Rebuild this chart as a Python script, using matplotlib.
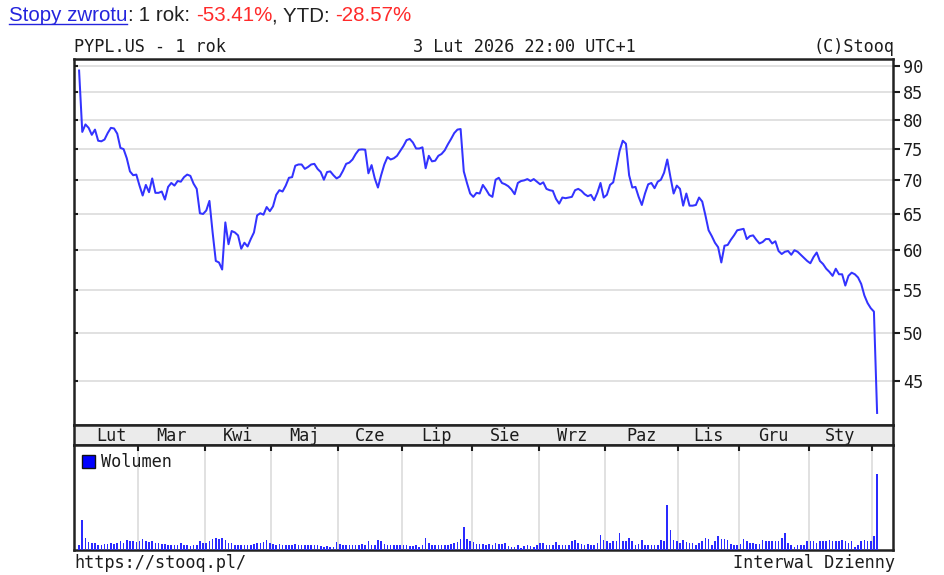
import numpy as np
import matplotlib
matplotlib.use("Agg")
import matplotlib.pyplot as plt
from matplotlib.patches import Patch
from matplotlib.lines import Line2D
from matplotlib.ticker import FixedLocator, NullLocator, FixedFormatter

# PYPL.US daily closes, 3 Feb 2025 .. 3 Feb 2026 (one value per trading day)
price_feb25 = [89.2, 77.9, 79.2, 78.6, 77.4, 78.3, 76.4, 76.3, 76.6, 77.7, 78.6, 78.5, 77.6, 75.2, 75.0, 73.5, 71.4, 70.8, 70.9]
price_mar = [69.2, 67.7, 69.3, 68.2, 70.3, 68.1, 68.1, 68.3, 67.1, 69.0, 69.6, 69.2, 69.9, 69.8, 70.5, 70.9, 70.7, 69.5, 68.7, 65.1, 65.0]
price_apr = [65.5, 66.9, 62.4, 58.6, 58.4, 57.5, 63.8, 60.8, 62.6, 62.4, 62.0, 60.2, 61.0, 60.5, 61.5, 62.4, 64.8, 65.1, 64.9, 66.0, 65.4]
price_may = [66.1, 67.8, 68.5, 68.3, 69.2, 70.4, 70.5, 72.3, 72.5, 72.5, 71.8, 72.1, 72.5, 72.6, 71.8, 71.3, 70.1, 71.3, 71.4, 70.8, 70.3]
price_jun = [70.6, 71.5, 72.6, 72.8, 73.3, 74.2, 74.9, 74.95, 74.9, 71.1, 72.4, 70.3, 68.9, 70.8, 72.5, 73.7, 73.3, 73.5, 73.9, 74.7]
price_jul = [75.5, 76.5, 76.7, 76.1, 75.1, 75.1, 75.3, 71.9, 73.9, 73.0, 73.1, 73.9, 74.2, 74.8, 75.8, 76.7, 77.7, 78.3, 78.4, 71.4, 69.6, 68.0]
price_aug = [67.5, 68.1, 68.0, 69.3, 68.6, 67.8, 67.5, 70.1, 70.4, 69.6, 69.4, 69.1, 68.6, 67.9, 69.6, 69.9, 70.0, 70.2, 69.9, 70.2, 69.8]
price_sep = [69.4, 69.7, 68.7, 68.5, 68.4, 67.2, 66.5, 67.4, 67.3, 67.4, 67.5, 68.5, 68.7, 68.4, 67.9, 67.6, 67.8, 67.0, 68.1, 69.6, 67.4]
price_oct = [67.8, 69.3, 69.7, 72.1, 74.7, 76.4, 75.9, 70.8, 68.9, 69.0, 67.5, 66.3, 68.0, 69.4, 69.6, 68.8, 69.8, 70.1, 71.2, 73.3, 70.5, 68.0, 69.2]
price_nov = [68.7, 66.2, 68.0, 66.2, 66.2, 66.3, 67.4, 66.8, 64.8, 62.7, 61.9, 61.0, 60.4, 58.4, 60.6, 60.7, 61.4, 62.0, 62.7]
price_dec = [62.8, 62.9, 61.5, 61.9, 62.0, 61.4, 60.9, 61.1, 61.5, 61.5, 60.9, 61.2, 59.9, 59.5, 59.8, 59.9, 59.4, 60.0, 59.8, 59.4, 59.0, 58.6]
price_jan = [58.3, 59.1, 59.7, 58.6, 58.2, 57.6, 57.2, 56.7, 57.6, 56.9, 56.9, 55.5, 56.7, 57.1, 56.9, 56.5, 55.7, 54.3, 53.4, 52.8]
price_feb26 = [52.4, 41.9]

# daily volume (relative units)
vol_feb25 = [5, 30, 12, 8, 7, 7, 5, 5, 6, 6, 7, 6, 7, 9, 7, 10, 9, 9, 8]
vol_mar = [9, 11, 9, 8, 9, 7, 7, 6, 6, 5, 5, 5, 5, 7, 5, 5, 4, 5, 5, 9, 7]
vol_apr = [7, 9, 11, 12, 11, 12, 10, 7, 7, 5, 5, 5, 5, 5, 5, 6, 7, 7, 8, 10, 7]
vol_may = [6, 5, 6, 5, 5, 5, 5, 6, 5, 5, 5, 5, 5, 5, 5, 4, 3, 4, 3, 3, 8]
vol_jun = [6, 5, 5, 5, 5, 5, 5, 6, 5, 9, 5, 5, 10, 9, 6, 5, 5, 5, 5, 5]
vol_jul = [5, 5, 4, 4, 5, 3, 5, 12, 7, 5, 5, 5, 5, 5, 5, 6, 7, 8, 11, 23, 11, 9]
vol_aug = [8, 6, 6, 6, 5, 6, 5, 7, 6, 6, 7, 4, 3, 3, 5, 2, 4, 5, 4, 3, 5]
vol_sep = [7, 7, 5, 5, 5, 8, 5, 5, 5, 5, 9, 10, 7, 6, 5, 6, 5, 5, 7, 15, 10]
vol_oct = [9, 7, 9, 9, 17, 9, 9, 12, 9, 5, 6, 10, 5, 5, 5, 5, 5, 10, 9, 44, 20, 10, 9]
vol_nov = [7, 10, 8, 7, 7, 5, 7, 9, 12, 11, 5, 9, 14, 11, 11, 10, 6, 5, 5]
vol_dec = [6, 11, 9, 7, 7, 6, 6, 10, 9, 9, 9, 9, 9, 12, 17, 7, 5, 3, 5, 5, 5, 9]
vol_jan = [9, 9, 7, 9, 9, 9, 10, 9, 9, 9, 10, 9, 7, 9, 3, 5, 9, 10, 9, 9]
vol_feb26 = [14, 75]

month_labels = ["Lut", "Mar", "Kwi", "Maj", "Cze", "Lip", "Sie", "Wrz", "Paz", "Lis", "Gru", "Sty", ""]
price_ticks = [45, 50, 55, 60, 65, 70, 75, 80, 85, 90]

price_months = [price_feb25, price_mar, price_apr, price_may, price_jun, price_jul, price_aug,
                price_sep, price_oct, price_nov, price_dec, price_jan, price_feb26]
vol_months = [vol_feb25, vol_mar, vol_apr, vol_may, vol_jun, vol_jul, vol_aug,
              vol_sep, vol_oct, vol_nov, vol_dec, vol_jan, vol_feb26]

price = np.concatenate(price_months)
volume = np.concatenate(vol_months)
x = np.arange(len(price))
month_len = np.array([len(m) for m in price_months])
month_start = np.concatenate([[0], np.cumsum(month_len)[:-1]])
bounds = month_start[1:] - 0.5
centers = (month_start - 0.5) + month_len / 2.0
centers[0] += 1.2  # first month starts on the 3rd

W, H = 945, 575
def fx(px):
    return px / W
def fy(py):
    return 1 - py / H

MONO = "DejaVu Sans Mono"
DARK = "#1c1c1c"
BLUE = "#3333ff"
XL = (-1.6, 256)
YL = (40.8, 91.5)
GRID = "#dcdcdc"

fig = plt.figure(figsize=(9.45, 5.75), dpi=100)
pw = fx(893) - fx(74)

# price panel
ax = fig.add_axes([fx(74), fy(425), pw, fy(59) - fy(425)])
# inward ticks on the left side (twin created first, twinx resets the parent's tick side)
axl = ax.twinx()

ax.plot(x, price, color=BLUE, lw=1.45, zorder=3)
ax.set_yscale("log")
ax.set_ylim(*YL)
ax.set_xlim(*XL)
ax.yaxis.set_major_locator(FixedLocator(price_ticks))
ax.yaxis.set_minor_locator(NullLocator())
ax.yaxis.set_major_formatter(FixedFormatter([str(v) for v in price_ticks]))
ax.yaxis.tick_right()
ax.yaxis.set_label_position("right")
ax.tick_params(axis="y", direction="out", length=5, width=1.5, color=DARK,
               labelsize=12.2, pad=2, labelcolor=DARK, labelfontfamily=MONO,
               left=False, labelleft=False, right=True, labelright=True)
ax.set_xticks(bounds)
ax.tick_params(axis="x", direction="in", top=True, bottom=True, length=4, width=1.5,
               color=DARK, labelbottom=False)
ax.grid(True, color=GRID, lw=1.2, zorder=0)
for s in ax.spines.values():
    s.set_linewidth(1.8)
    s.set_color("#222222")

axl.set_yscale("log")
axl.set_ylim(*YL)
axl.yaxis.set_major_locator(FixedLocator(price_ticks))
axl.yaxis.set_minor_locator(NullLocator())
axl.yaxis.tick_left()
axl.tick_params(axis="y", direction="in", length=3, width=1.5, color=DARK,
                labelleft=False, labelright=False, right=False)
axl.set_xticks([])
for s in axl.spines.values():
    s.set_visible(False)

# month band
axb = fig.add_axes([fx(74), fy(445), pw, fy(425) - fy(445)], facecolor="#ebebeb")
axb.set_xlim(*XL)
axb.set_ylim(0, 1)
axb.set_xticks([])
axb.set_yticks([])
for s in axb.spines.values():
    s.set_linewidth(1.8)
    s.set_color("#222222")
for c, lab in zip(centers, month_labels):
    axb.text(c, 0.45, lab, ha="center", va="center", family=MONO, fontsize=12.2, color=DARK)

# volume panel
axv = fig.add_axes([fx(74), fy(550), pw, fy(445) - fy(550)])
axv.bar(x, volume, width=0.5, color="#2a2aff", lw=0, zorder=3)
axv.set_xlim(*XL)
axv.set_ylim(0, 103.7)
axv.set_yticks([])
axv.set_xticks(bounds)
axv.tick_params(axis="x", direction="in", top=True, bottom=False, length=4, width=1.5,
                color=DARK, labelbottom=False)
axv.grid(True, axis="x", color=GRID, lw=1.2, zorder=0)
for s in axv.spines.values():
    s.set_linewidth(1.8)
    s.set_color("#222222")
axv.legend([Patch(facecolor="#0000ff", edgecolor="#111111", lw=1)], ["Wolumen"],
           loc="upper left", frameon=False, handlelength=0.75, handleheight=0.75,
           handletextpad=0.35, borderaxespad=0.3, borderpad=0.2,
           prop={"family": MONO, "size": 12.2}, labelcolor=DARK)

# header / footer texts
fig.text(fx(74), fy(47), "PYPL.US - 1 rok", ha="left", va="center", family=MONO, fontsize=12.2, color=DARK)
fig.text(fx(413), fy(47), "3 Lut 2026 22:00 UTC+1", ha="left", va="center", family=MONO, fontsize=12.2, color=DARK)
fig.text(fx(895), fy(47), "(C)Stooq", ha="right", va="center", family=MONO, fontsize=12.2, color=DARK)
fig.text(fx(74), fy(563), "https://stooq.pl/", ha="left", va="center", family=MONO, fontsize=12.2, color=DARK)
fig.text(fx(895), fy(563), "Interwal Dzienny", ha="right", va="center", family=MONO, fontsize=12.2, color=DARK)

# "Stopy zwrotu" line
renderer = fig.canvas.get_renderer()
parts = [("Stopy zwrotu", "#2424dd"), (":", "#222222"), (" 1 rok: ", "#222222"),
         ("-53.41%", "#ff2a2a"), (", YTD: ", "#222222"), ("-28.57%", "#ff2a2a")]
xpos = fx(9)
for i, (txt, col) in enumerate(parts):
    t = fig.text(xpos, fy(21), txt, color=col, fontsize=14.8, family="Liberation Sans",
                 ha="left", va="baseline")
    w = t.get_window_extent(renderer).width / W
    if i == 0:
        fig.add_artist(Line2D([xpos, xpos + w], [fy(23.5), fy(23.5)], color="#2424dd", lw=1.0))
    xpos += w

fig.savefig("out.png", dpi=100, facecolor="white")
